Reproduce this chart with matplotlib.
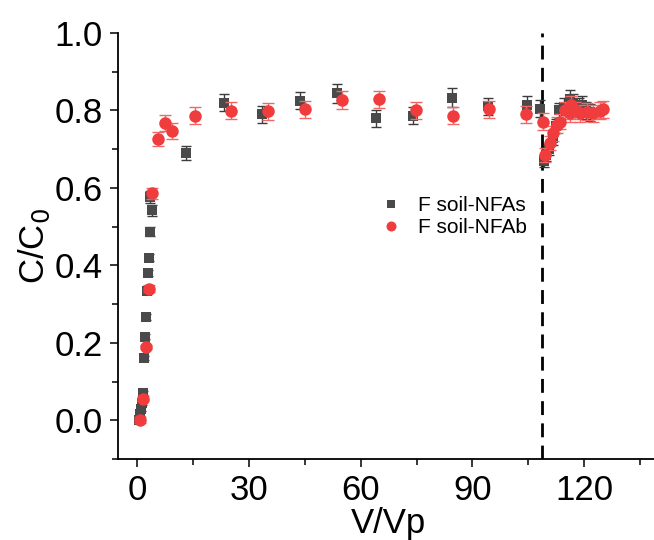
#!/usr/bin/env python3
"""Breakthrough curves C/C0 vs V/Vp for F soil-NFAs and F soil-NFAb."""

import matplotlib
matplotlib.use('Agg')
import matplotlib.pyplot as plt
from matplotlib.ticker import MultipleLocator

# F soil-NFAs (grey squares)
nfas_x = [0.5, 0.8, 1.0, 1.3, 1.5, 1.8, 2.1, 2.3, 2.7, 2.9, 3.2, 3.6, 4.0, 3.6,
          13.1, 23.4, 33.5, 43.7, 53.7, 64.0, 74.1, 84.4, 94.2, 104.5, 108.1,
          109.2, 109.8, 110.5, 111.5, 112.3, 113.2, 114.5, 116.2, 117.0, 118.5,
          119.5, 120.5, 121.5]
nfas_y = [0.0, 0.017, 0.03, 0.045, 0.07, 0.161, 0.216, 0.267, 0.333, 0.381, 0.42,
          0.487, 0.542, 0.577, 0.69, 0.82, 0.79, 0.825, 0.844, 0.78, 0.786, 0.833,
          0.811, 0.815, 0.804, 0.67, 0.685, 0.70, 0.73, 0.76, 0.80, 0.81, 0.83,
          0.82, 0.81, 0.815, 0.80, 0.795]
nfas_err = [0.005, 0.005, 0.005, 0.005, 0.005, 0.006, 0.006, 0.007, 0.008, 0.008,
            0.01, 0.012, 0.015, 0.015, 0.018, 0.022, 0.022, 0.022, 0.024, 0.022,
            0.022, 0.024, 0.022, 0.022, 0.022, 0.015, 0.015, 0.015, 0.018, 0.018,
            0.02, 0.022, 0.022, 0.022, 0.022, 0.022, 0.022, 0.022]

# F soil-NFAb (red circles)
nfab_x = [0.7, 1.6, 2.3, 3.1, 4.1, 5.6, 7.4, 9.3, 15.5, 25.3, 35.2, 45.2, 55.0,
          64.9, 74.8, 84.7, 94.5, 104.3, 108.8, 109.5, 110.8, 111.7, 112.6, 113.5,
          114.8, 116.1, 116.5, 117.5, 118.8, 120.6, 122.4, 124.2, 125.1]
nfab_y = [0.0, 0.056, 0.189, 0.34, 0.586, 0.726, 0.767, 0.747, 0.786, 0.799,
          0.798, 0.803, 0.827, 0.829, 0.801, 0.786, 0.803, 0.79, 0.771, 0.685,
          0.715, 0.741, 0.762, 0.771, 0.801, 0.793, 0.815, 0.801, 0.793, 0.797,
          0.793, 0.799, 0.803]
nfab_err = [0.008, 0.006, 0.006, 0.008, 0.015, 0.018, 0.02, 0.02, 0.022, 0.022,
            0.022, 0.022, 0.022, 0.022, 0.022, 0.022, 0.022, 0.022, 0.022, 0.018,
            0.018, 0.02, 0.02, 0.02, 0.022, 0.022, 0.022, 0.022, 0.022, 0.022,
            0.022, 0.022, 0.022]

pulse_end = 108.6

plt.rcParams['font.family'] = ['Liberation Sans', 'DejaVu Sans']

fig = plt.figure(figsize=(6.54, 5.40), dpi=100)
ax = fig.add_axes([0.1809, 0.15, 0.8265, 0.7889])

grey, red = '#4a4a4a', '#f03c3c'

# error bars first, markers on top
ax.errorbar(nfas_x, nfas_y, yerr=nfas_err, fmt='none', ecolor='#3c3c3c',
            elinewidth=1.0, capsize=3.5, capthick=1.0, zorder=2)
ax.plot(nfas_x, nfas_y, 's', color=grey, markersize=7.5, markeredgewidth=0,
        label='F soil-NFAs', zorder=3)
ax.errorbar(nfab_x, nfab_y, yerr=nfab_err, fmt='none', ecolor='#f26666',
            elinewidth=1.0, capsize=4, capthick=1.0, zorder=4)
ax.plot(nfab_x, nfab_y, 'o', color=red, markersize=9, markeredgewidth=0,
        label='F soil-NFAb', zorder=5)

# end of the first pulse
ax.axvline(pulse_end, color='k', linestyle=(0, (5, 3)), linewidth=2.0, zorder=1)

ax.set_xlim(-5, 140)
ax.set_ylim(-0.1, 1.0)
ax.xaxis.set_major_locator(MultipleLocator(30))
ax.xaxis.set_minor_locator(MultipleLocator(15))
ax.yaxis.set_major_locator(MultipleLocator(0.2))
ax.yaxis.set_minor_locator(MultipleLocator(0.1))
ax.yaxis.set_major_formatter(plt.FormatStrFormatter('%.1f'))

for side in ['top', 'right']:
    ax.spines[side].set_visible(False)
for side in ['left', 'bottom']:
    ax.spines[side].set_linewidth(1.3)

ax.tick_params(which='major', direction='out', length=6, width=1.1, labelsize=25, pad=5)
ax.tick_params(which='minor', direction='out', length=4, width=1.1)

ax.set_xlabel('V/Vp', fontsize=25, labelpad=0)
ax.set_ylabel('C/C$_0$', fontsize=25, labelpad=2)

ax.legend(loc='upper left', bbox_to_anchor=(0.583, 0.637), bbox_transform=fig.transFigure,
          frameon=False, fontsize=15, handlelength=0.9, handletextpad=0.85,
          labelspacing=0.15, borderpad=0, borderaxespad=0, markerscale=0.8)

fig.savefig('out.png', dpi=100)
